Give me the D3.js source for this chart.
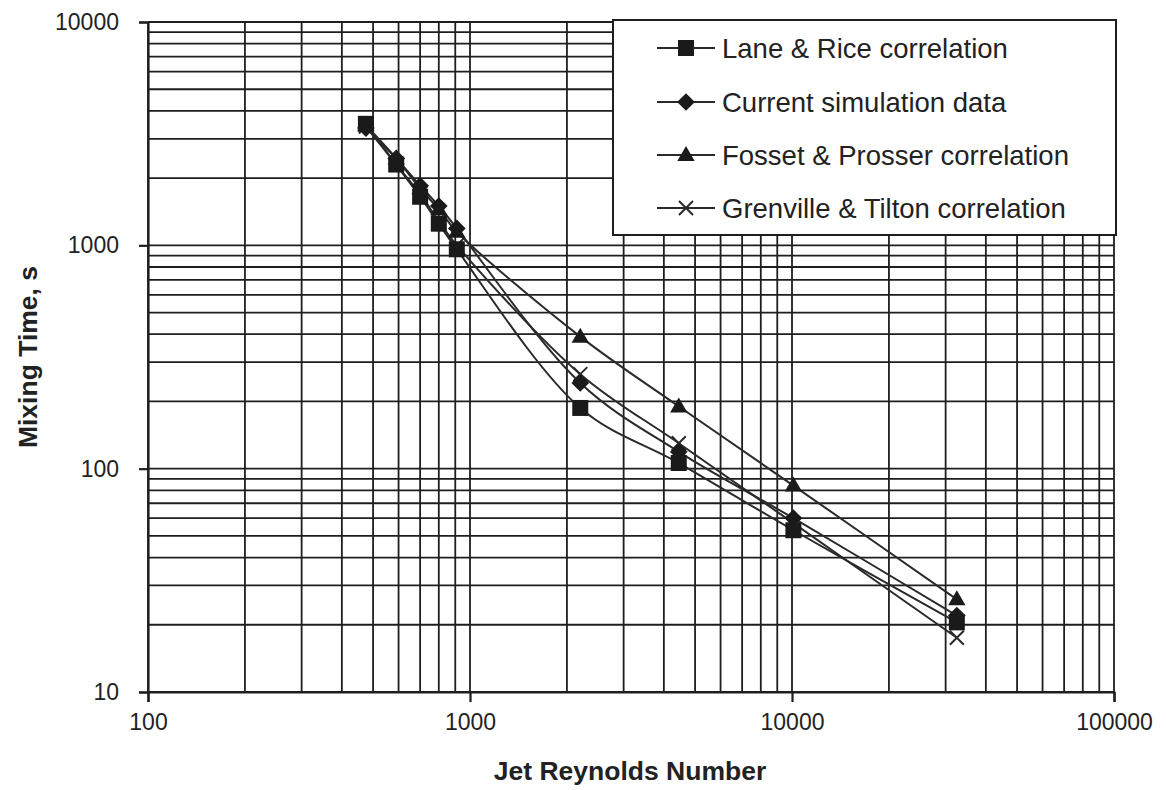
<!DOCTYPE html>
<html>
<head>
<meta charset="utf-8">
<script src="https://cdn.jsdelivr.net/npm/d3@7"></script>
<style>
  html, body { margin: 0; padding: 0; background: #fff; }
  svg { display: block; }
  text { font-family: Arial, "Liberation Sans", sans-serif; fill: #222; }
</style>
</head>
<body>
<svg id="chart" width="1166" height="790"></svg>
<script>
// ---- data ----
const reynolds = [475, 590, 700, 800, 910, 2200, 4450, 10100, 32500];
const laneRice = [3500, 2300, 1650, 1250, 960, 187, 106, 53, 20.5];
const currentSim = [3350, 2450, 1850, 1500, 1190, 242, 119, 60, 22];
const fossetProsser = [3450, 2450, 1800, 1450, 1150, 390, 190, 84, 26];
const grenvilleTilton = [3400, 2300, 1700, 1280, 1000, 265, 130, 57, 17.5];
const seriesNames = ["Lane & Rice correlation", "Current simulation data", "Fosset & Prosser correlation", "Grenville & Tilton correlation"];
const xTickLabels = ["100", "1000", "10000", "100000"];
const yTickLabels = ["10", "100", "1000", "10000"];

const svg = d3.select("#chart");
const pLeft = 148, pRight = 1114, pTop = 22, pBottom = 692;
const x = d3.scaleLog().domain([100, 100000]).range([pLeft, pRight]);
const y = d3.scaleLog().domain([10, 10000]).range([pBottom, pTop]);
const ink = "#1e1e1e";

// grid lines (every minor log step)
const minor = [];
for (let d = 100; d < 100000; d *= 10) for (let k = 1; k <= 9; k++) minor.push(d * k);
minor.push(100000);
const minorY = [];
for (let d = 10; d < 10000; d *= 10) for (let k = 1; k <= 9; k++) minorY.push(d * k);
minorY.push(10000);

const grid = svg.append("g");
grid.selectAll("line.v").data(minor).enter().append("line")
  .attr("x1", d => x(d)).attr("x2", d => x(d)).attr("y1", pTop).attr("y2", pBottom)
  .attr("stroke", ink).attr("stroke-width", 1.8);
grid.selectAll("line.h").data(minorY).enter().append("line")
  .attr("y1", d => y(d)).attr("y2", d => y(d)).attr("x1", pLeft).attr("x2", pRight)
  .attr("stroke", ink).attr("stroke-width", 1.8);

// axes
const xAxis = d3.axisBottom(x).tickValues(xTickLabels.map(Number)).tickFormat((d, i) => xTickLabels[i]).tickSize(10).tickPadding(10);
const yAxis = d3.axisLeft(y).tickValues(yTickLabels.map(Number)).tickFormat((d, i) => yTickLabels[i]).tickSize(9).tickPadding(20);
const gx = svg.append("g").attr("transform", `translate(0,${pBottom})`).call(xAxis);
const gy = svg.append("g").attr("transform", `translate(${pLeft},0)`).call(yAxis);
[gx, gy].forEach(g => {
  g.select(".domain").attr("stroke", ink).attr("stroke-width", 2.2);
  g.selectAll(".tick line").attr("stroke", ink).attr("stroke-width", 2.2);
  g.selectAll(".tick text").attr("font-size", 23).attr("fill", "#222")
    .attr("font-family", "Arial, 'Liberation Sans', sans-serif");
});
gx.selectAll(".tick text").attr("dy", "0.78em");

// axis titles
svg.append("text").attr("x", 630).attr("y", 780).attr("text-anchor", "middle")
  .attr("font-size", 26.5).attr("font-weight", "bold").text("Jet Reynolds Number");
svg.append("text").attr("transform", "translate(37,357) rotate(-90)").attr("text-anchor", "middle")
  .attr("font-size", 26.5).attr("font-weight", "bold").text("Mixing Time, s");

// series
const allSeries = [laneRice, currentSim, fossetProsser, grenvilleTilton];
const markerTypes = ["square", "diamond", "triangle", "cross"];
const line = d3.line().x(d => x(d[0])).y(d => y(d[1])).curve(d3.curveCatmullRom.alpha(0.5));

function drawMarker(g, type, cx, cy) {
  if (type === "square") {
    g.append("rect").attr("x", cx - 8).attr("y", cy - 8).attr("width", 16).attr("height", 16).attr("fill", "#1a1a1a");
  } else if (type === "diamond") {
    g.append("path").attr("d", d3.symbol(d3.symbolDiamond2, 200)()).attr("transform", `translate(${cx},${cy})`).attr("fill", "#1a1a1a");
  } else if (type === "triangle") {
    g.append("path").attr("d", d3.symbol(d3.symbolTriangle, 130)()).attr("transform", `translate(${cx},${cy + 1})`).attr("fill", "#1a1a1a");
  } else {
    g.append("path").attr("d", d3.symbol(d3.symbolTimes, 130)()).attr("transform", `translate(${cx},${cy})`)
      .attr("fill", "none").attr("stroke", "#2a2a2a").attr("stroke-width", 2);
  }
}

const plot = svg.append("g");
allSeries.forEach((vals, si) => {
  const pts = reynolds.map((r, i) => [r, vals[i]]);
  plot.append("path").datum(pts).attr("d", line).attr("fill", "none")
    .attr("stroke", "#2a2a2a").attr("stroke-width", 2);
});
// markers drawn in reverse so Lane & Rice is on top
[3, 2, 1, 0].forEach(si => {
  const g = plot.append("g");
  reynolds.forEach((r, i) => drawMarker(g, markerTypes[si], x(r), y(allSeries[si][i])));
});

// legend
const lg = svg.append("g");
lg.append("rect").attr("x", 613).attr("y", 20).attr("width", 503).attr("height", 215)
  .attr("fill", "#fff").attr("stroke", ink).attr("stroke-width", 2);
const rowY = [48, 102, 155, 208];
seriesNames.forEach((name, i) => {
  lg.append("line").attr("x1", 657).attr("x2", 715).attr("y1", rowY[i]).attr("y2", rowY[i])
    .attr("stroke", "#2a2a2a").attr("stroke-width", 2);
  drawMarker(lg, markerTypes[i], 686, rowY[i]);
  lg.append("text").attr("x", 722).attr("y", rowY[i]).attr("dy", "0.36em")
    .attr("font-size", 27.5).text(name);
});
</script>
</body>
</html>
